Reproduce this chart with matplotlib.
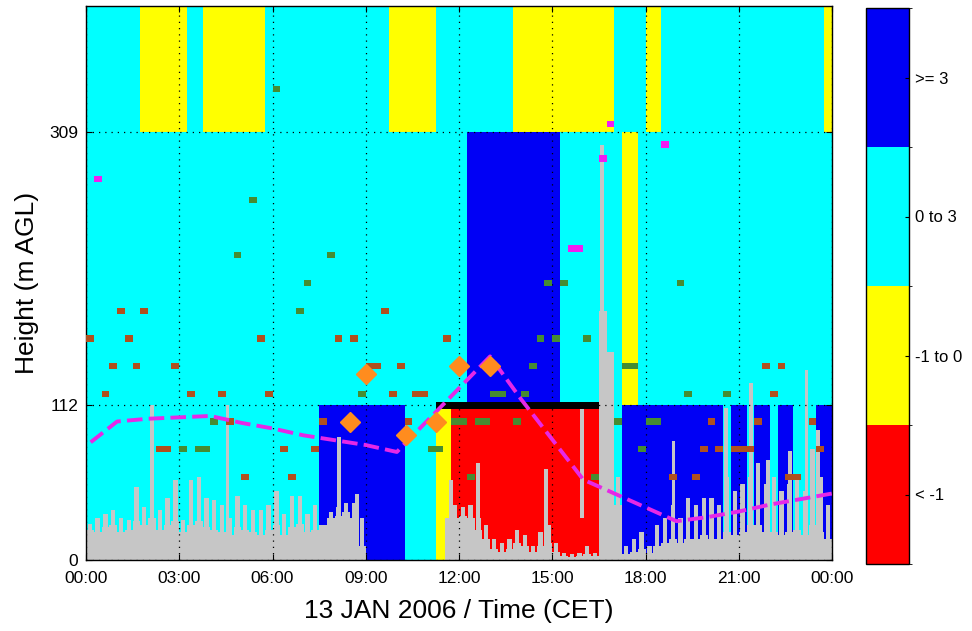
import matplotlib.pyplot as plt
import numpy as np
from matplotlib.colors import ListedColormap, BoundaryNorm

plt.rcParams['font.family'] = ['Liberation Sans', 'DejaVu Sans']

# stability classes: 0 = "< -1", 1 = "-1 to 0", 2 = "0 to 3", 3 = ">= 3"
class_labels = ['< -1', '-1 to 0', '0 to 3', '>= 3']
class_colors = ['#ff0000', '#ffff00', '#00ffff', '#0000f5']

# layer limits (m AGL)
layer_bounds = [0, 112, 309, 400]

# class per layer, changes in hours CET
low_edges = [0, 7.5, 10.25, 11.25, 11.75, 16.5, 17.25, 20.5, 20.75, 21.25,
             21.5, 22.0, 22.25, 22.75, 23.5, 24]
low_cls = [2, 3, 2, 1, 0, 2, 3, 2, 3, 2, 3, 2, 3, 2, 3]
mid_edges = [0, 12.25, 15.25, 17.25, 17.75, 24]
mid_cls = [2, 3, 2, 1, 2]
top_edges = [0, 1.75, 3.25, 3.75, 5.75, 9.75, 11.25, 13.75, 17.0, 18.0,
             18.5, 23.75, 24]
top_cls = [2, 1, 2, 1, 2, 1, 2, 1, 2, 1, 2, 1]

# sodar echo per 15 min (m): dense base and highest streak
echo_t = np.arange(0, 24, 0.25)
echo_base = [22, 20, 24, 25, 20, 22, 28, 25, 30, 22, 25, 28,
             20, 25, 28, 24, 22, 20, 18, 24, 22, 20, 18, 22,
             25, 18, 24, 26, 20, 22, 25, 30, 32, 35, 30, 10,
             0, 0, 0, 0, 0, 0, 0, 0, 0, 0, 0, 30,
             32, 30, 22, 15, 8, 6, 8, 12, 10, 6, 10, 12,
             6, 3, 2, 3, 4, 3, 180, 150, 40, 4, 6, 8,
             5, 10, 12, 15, 12, 15, 15, 18, 15, 15, 20, 18,
             20, 25, 25, 20, 20, 18, 20, 22, 18, 25, 20, 15]
echo_top = [26, 30, 33, 36, 30, 29, 53, 38, 45, 36, 45, 58,
            29, 58, 60, 45, 43, 40, 30, 46, 40, 36, 36, 40,
            50, 33, 46, 46, 33, 40, 20, 35, 38, 41, 41, 30,
            0, 0, 0, 0, 0, 0, 0, 0, 0, 0, 30, 40,
            38, 40, 30, 25, 15, 12, 15, 22, 18, 10, 20, 25,
            12, 5, 4, 5, 10, 5, 180, 150, 60, 10, 15, 20,
            10, 25, 30, 40, 30, 45, 40, 45, 45, 40, 60, 50,
            55, 60, 70, 55, 60, 50, 55, 60, 50, 80, 60, 40]
# isolated echo columns: time, bottom, top
spike_t = [2.12, 4.55, 8.15, 8.72, 11.75, 12.6, 14.8, 15.95, 16.6, 18.9,
           20.6, 21.4, 21.95, 22.65, 23.18, 23.55]
spike_lo = [0, 0, 0, 0, 0, 0, 0, 30, 0, 0, 0, 0, 0, 0, 0, 0]
spike_hi = [112, 112, 89, 48, 58, 70, 66, 112, 300, 86, 110, 128, 72, 79, 137, 94]

# wind profile markers (start of 15-min interval, height)
brown_t = [1.0, 1.75, 9.5,
           0.0, 1.25, 5.5, 8.0, 8.5, 11.5,
           0.75, 1.5, 2.75, 9.0, 9.25, 10.0, 21.75, 22.25,
           0.5, 3.25, 4.25, 5.75, 9.75, 10.5, 10.75, 22.0,
           4.5, 7.5, 10.25, 20.0, 21.5, 23.25,
           2.25, 2.5, 6.25, 7.25, 19.75, 20.25, 20.75, 21.0, 21.25, 23.5,
           5.0, 6.5, 18.75, 19.5, 22.5, 22.75]
brown_h = [180] * 3 + [160] * 6 + [140] * 8 + [120] * 8 + [100] * 6 + [80] * 10 + [60] * 6
green_t = [6.0, 5.25, 4.75, 7.75,
           7.0, 14.75, 15.25, 19.0,
           6.75,
           14.5, 15.0, 16.0,
           14.25, 17.25, 17.5,
           8.75, 13.0, 13.25, 14.0, 19.25, 20.5,
           4.0, 11.75, 12.0, 12.5, 12.75, 13.75, 17.0, 18.0, 18.25,
           3.0, 3.5, 3.75, 11.0, 11.25, 17.75,
           12.25, 16.25]
green_h = [340, 260, 220, 220] + [200] * 4 + [180] + [160] * 3 + [140] * 3 + \
          [120] * 6 + [100] * 9 + [80] * 6 + [60] * 2
magenta_t = [0.25, 15.5, 15.75, 16.5, 16.75, 18.5]
magenta_h = [275, 225, 225, 290, 315, 300]

# mixing height (dashed line)
mh_t = [0.15, 1.0, 2.0, 3.0, 4.0, 5.0, 6.0, 7.0, 8.0, 9.0, 10.0, 11.0, 12.0,
        13.0, 14.0, 15.0, 16.0, 16.4, 17.0, 18.0, 19.0, 20.0, 21.0, 22.0, 23.0, 24.0]
mh_h = [85, 100, 102, 103, 104, 99, 95, 90, 86.5, 83, 78, 101, 124,
        147, 116, 87, 58, 54, 48, 38, 28, 31, 35, 40, 44, 48]

# diamonds
dia_t = [8.5, 9.0, 10.3, 11.25, 12.0, 13.0]
dia_h = [100, 134, 90, 100, 140, 140]

# inversion top marker
inv_t0, inv_t1, inv_h = 11.25, 16.5, 112

cmap = ListedColormap(class_colors)
norm = BoundaryNorm([-0.5, 0.5, 1.5, 2.5, 3.5], cmap.N)

fig = plt.figure(figsize=(9.72, 6.31), dpi=100)
ax = fig.add_axes([86 / 972, 71 / 631, 746 / 972, 554 / 631])

layers = [(low_edges, low_cls), (mid_edges, mid_cls), (top_edges, top_cls)]
for k, (edges, cls) in enumerate(layers):
    mesh = ax.pcolormesh(edges, layer_bounds[k:k + 2], [cls], cmap=cmap, norm=norm,
                         edgecolors='none', antialiased=False, zorder=0)

echo_col = '#c6c6c6'
ax.bar(echo_t, echo_base, width=0.25, align='edge', color=echo_col,
       linewidth=0, zorder=1)
ax.bar(echo_t + 0.125, echo_top, width=0.14, color=echo_col,
       linewidth=0, zorder=1)
ax.bar(spike_t, np.array(spike_hi) - np.array(spike_lo), bottom=spike_lo,
       width=0.12, color=echo_col, linewidth=0, zorder=1)

ax.bar(inv_t0, 5, bottom=inv_h - 3, width=inv_t1 - inv_t0, align='edge',
       color='k', linewidth=0, zorder=2)

mk_h = 4.6
ax.bar(brown_t, mk_h, bottom=np.array(brown_h) - mk_h / 2, width=0.25, align='edge',
       color='#b0501e', linewidth=0, zorder=3)
ax.bar(green_t, mk_h, bottom=np.array(green_h) - mk_h / 2, width=0.25, align='edge',
       color='#468c32', linewidth=0, zorder=3)
ax.bar(magenta_t, mk_h, bottom=np.array(magenta_h) - mk_h / 2, width=0.25, align='edge',
       color='#f01ef0', linewidth=0, zorder=3)

ax.plot(mh_t, mh_h, color='#e628e6', lw=2.8, dashes=(4, 1.6), zorder=4)
ax.plot(dia_t, dia_h, 'D', color='#ff8c1e', ms=10, mec='#ff8c1e', zorder=5)

ax.set_xlim(0, 24)
ax.set_ylim(0, 400)
ax.set_xticks(np.arange(0, 25, 3))
ax.set_xticklabels(['00:00', '03:00', '06:00', '09:00', '12:00', '15:00',
                    '18:00', '21:00', '00:00'])
ax.set_yticks([0, 112, 309])
ax.grid(True, color='k', linestyle=(0, (1, 4)), linewidth=0.9)
ax.set_axisbelow(False)
ax.tick_params(direction='in', length=4, top=True, right=True, labelsize=12.5)
ax.tick_params(axis='x', pad=8)
ax.tick_params(axis='y', pad=5.5)
for s in ax.spines.values():
    s.set_linewidth(1)

ax.set_xlabel('13 JAN 2006 / Time (CET)', fontsize=19)
ax.set_ylabel('Height (m AGL)', fontsize=19)
ax.xaxis.set_label_coords(0.5, -0.07)
ax.yaxis.set_label_coords(-0.063, 0.5)

cax = fig.add_axes([866 / 972, 67 / 631, 43 / 972, 556 / 631])
cb = fig.colorbar(mesh, cax=cax, ticks=[0, 1, 2, 3])
cb.ax.set_yticklabels(class_labels)
cb.ax.tick_params(direction='in', length=3, labelsize=12, pad=4)
cb.outline.set_linewidth(1)

fig.savefig('out.png', dpi=100)
